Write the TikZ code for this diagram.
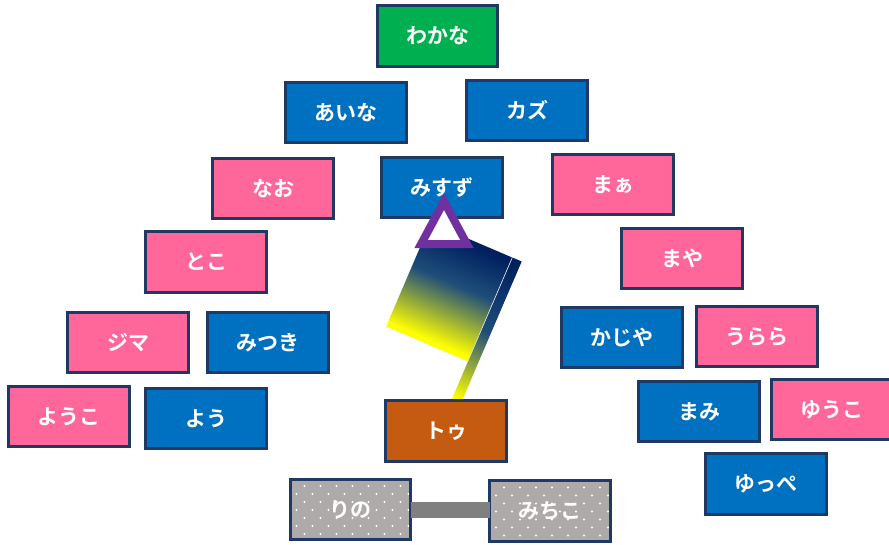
\documentclass[tikz,border=0pt]{standalone}
\usepackage{fontspec}
\setmainfont{Noto Sans CJK JP}[BoldFont={* Bold}]
\definecolor{edgeblue}{HTML}{1F3864}
\definecolor{bluebox}{HTML}{0070C0}
\definecolor{pinkbox}{HTML}{FF6699}
\definecolor{greenbox}{HTML}{00B050}
\definecolor{brownbox}{HTML}{C55A11}
\definecolor{greybox}{HTML}{AEAAAA}
\definecolor{flagnavy}{HTML}{002060}
\definecolor{flagmid}{HTML}{1F4E79}
\definecolor{flagpurple}{HTML}{7030A0}
\pgfdeclareverticalshading{panelshade}{100bp}{color(0bp)=(yellow); color(27bp)=(yellow); color(54bp)=(flagmid); color(73bp)=(flagnavy); color(100bp)=(flagnavy)}
\pgfdeclareverticalshading{stripshade}{100bp}{color(0bp)=(yellow); color(27bp)=(yellow); color(50bp)=(flagmid); color(73bp)=(flagnavy); color(100bp)=(flagnavy)}
\tikzset{
	person/.style={draw=edgeblue, line width=2.8pt, minimum width=120.5pt, minimum height=60.5pt, outer sep=0pt, inner sep=0pt, text=white, font=\fontsize{21}{25}\selectfont\bfseries},
	boy/.style={person, fill=bluebox},
	girl/.style={person, fill=pinkbox},
	dotbox/.style={person, fill=greybox, path picture={
		\foreach \row in {0, ..., 6} {
			\foreach \col in {0, ..., 7} {
				\pgfmathsetmacro{\dotx}{-61 + 15 - 8*mod(\row, 2) + 16*\col}
				\pgfmathsetmacro{\doty}{-23.5 + 8*\row}
				\fill[white] (path picture bounding box.center) ++(\dotx, \doty) circle (1.1);
			}
		}
	}},
}
\begin{document}
\begin{tikzpicture}[x=1pt, y=-1pt]
	\useasboundingbox (0, 0) rectangle (889, 544);

	\node [person, fill=greenbox]	(wakana) at (437.5, 36) {わかな};
	\node [boy]		(aina) at (346, 112.5) {あいな};
	\node [boy]		(kazu) at (527, 110.5) {カズ};
	\node [girl]	(nao) at (273, 188.5) {なお};
	\node [boy]		(misuzu) at (442, 187.5) {みすず};
	\node [girl]	(maa) at (613, 184.5) {まぁ};
	\node [girl]	(toko) at (206, 262) {とこ};
	\node [girl]	(maya) at (682, 258.5) {まや};
	\node [girl]	(jima) at (128, 342.5) {ジマ};
	\node [boy]		(mitsuki) at (268, 342.5) {みつき};
	\node [boy]		(kajiya) at (622, 337.5) {かじや};
	\node [girl]	(urara) at (757, 336.5) {うらら};
	\node [girl]	(youko) at (69, 416.5) {ようこ};
	\node [boy]		(you) at (206, 418.5) {よう};
	\node [boy]		(mami) at (699, 411.5) {まみ};
	\node [girl]	(yuuko) at (832, 409.5) {ゆうこ};
	\node [boy]		(yuppe) at (766, 484) {ゆっぺ};

	% the flag
	\begin{scope}[transform canvas={rotate around={-23.2:(449.2, 292)}}]
		\node [minimum width=10pt, minimum height=158pt, inner sep=0pt, outer sep=0pt, shading=stripshade]	(strip) at (498.8, 314.4) {};
		\node [minimum width=88.8pt, minimum height=113pt, inner sep=0pt, outer sep=0pt, shading=panelshade]	(panel) at (449.2, 292) {};
		\draw [white!85!black, line width=0.7pt]	(panel.north east) to (panel.south east);
	\end{scope}

	\node [person, fill=brownbox]	(tou) at (446, 431) {トゥ};

	\coordinate (apex) at (444, 201.5);
	\coordinate (baseleft) at (421.1, 244);
	\coordinate (baseright) at (466.9, 244);
	\filldraw [draw=flagpurple, fill=white, line width=8pt, miter limit=10]	(apex) to (baseleft) to (baseright) -- cycle;

	\node [dotbox]	(rino) at (350.5, 509.5) {りの};
	\node [dotbox]	(michiko) at (550, 511) {みちこ};
	\draw [gray, line width=16pt]	(rino) to (rino -| michiko.west);
\end{tikzpicture}
\end{document}
